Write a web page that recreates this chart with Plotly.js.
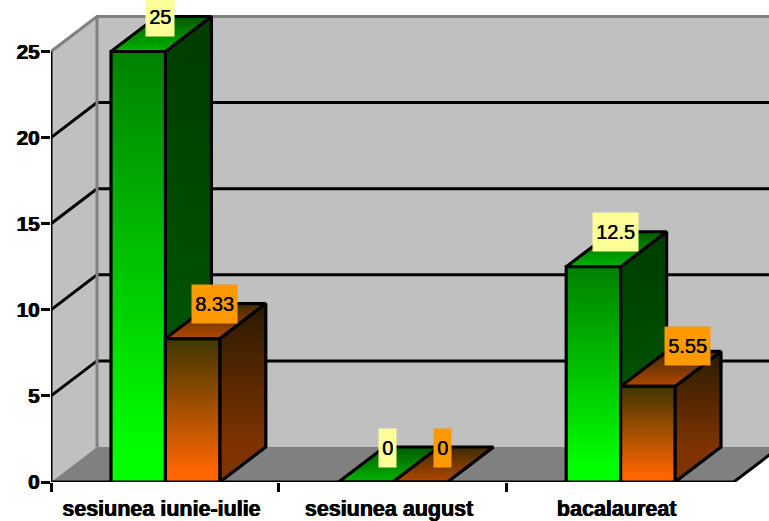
<!DOCTYPE html>
<html><head><meta charset="utf-8">
<script src="https://cdn.plot.ly/plotly-3.0.1.min.js"></script>
<style>html,body{margin:0;padding:0;background:#fff;overflow:hidden}</style>
</head><body><div id="chart" style="width:769px;height:521px"></div>
<script>
const categories = ['sesiunea iunie-iulie', 'sesiunea august', 'bacalaureat'];
const greenValues = [25, 0, 12.5];
const orangeValues = [8.33, 0, 5.55];
const yTicks = [0, 5, 10, 15, 20, 25];
const catTicks = [0, 1, 2];
const catCentres = [0.485, 1.485, 2.485];

const W = 769, H = 521, L = 51, B = 39;
const pxPerCat = 227.6, pxPerVal = 17.22;
const dX = 46 / pxPerCat, dY = 35 / pxPerVal;      // oblique depth
const barW = 54.4 / pxPerCat, gap = 60 / pxPerCat; // bar width, left gap
const FAMILY = '"Liberation Sans", Arial, sans-serif';
const HEAVY = '0.5px 0 0 #000, -0.3px 0 0 #000';

const traces = [];
function poly(pts, fill, line, lw, grad) {
  const t = {
    x: pts.map(p => p[0]), y: pts.map(p => p[1]), mode: 'lines', type: 'scatter',
    cliponaxis: false, showlegend: false, hoverinfo: 'skip',
    line: {color: line || 'rgba(0,0,0,0)', width: lw === undefined ? 3 : lw}
  };
  if (fill || grad) { t.fill = 'toself'; t.fillcolor = fill || 'rgba(0,0,0,0)'; }
  if (grad) t.fillgradient = {type: 'vertical', start: grad[0], stop: grad[1],
                              colorscale: [[0, grad[2]], [1, grad[3]]]};
  traces.push(t);
}
const nCat = categories.length, yMax = yTicks[yTicks.length - 1];

// walls and floor
poly([[dX, dY], [nCat + dX, dY], [nCat + dX, yMax + dY], [dX, yMax + dY], [dX, dY]], '#C0C0C0');
poly([[0, 0], [dX, dY], [dX, yMax + dY], [0, yMax], [0, 0]], '#C0C0C0');
poly([[0, 0], [nCat, 0], [nCat + dX, dY], [dX, dY], [0, 0]], '#808080');
// gridlines
yTicks.slice(1, -1).forEach(v => poly([[0, v], [dX, v + dY], [nCat + dX, v + dY]], null, '#000', 3));
// wall edges
poly([[0, yMax], [dX, yMax + dY], [nCat + dX, yMax + dY]], null, '#808080', 3);
poly([[dX, dY], [dX, yMax + dY]], null, '#808080', 3);
poly([[0, 0], [nCat, 0], [nCat + dX, dY]], null, '#000', 3);
poly([[0, 0], [0, yMax]], null, '#000', 3);

function bar(x0, v, c) {
  const x1 = x0 + barW;
  poly([[x1, 0], [x1 + dX, dY], [x1 + dX, v + dY], [x1, v], [x1, 0]], null, '#000', 3.2,
       [v + dY, dY, c.sideTop, c.sideBot]);
  poly([[x0, v], [x1, v], [x1 + dX, v + dY], [x0 + dX, v + dY], [x0, v]], null, '#000', 3.2,
       [v + dY, v, c.capBack, c.capFront]);
  poly([[x0, 0], [x1, 0], [x1, v], [x0, v], [x0, 0]], null, '#000', 3.2,
       [v, v * 0.07, c.frontTop, c.frontBot]);
}
const greenStyle = {sideTop: '#003C00', sideBot: '#005C00', capBack: '#005A00', capFront: '#00B400',
                    frontTop: '#008000', frontBot: '#00FF00'};
const orangeStyle = {sideTop: '#2A1A00', sideBot: '#7F3300', capBack: '#3F2A00', capFront: '#B34700',
                     frontTop: '#3F3600', frontBot: '#FF6600'};
const annotations = [];
function label(x, v, bg, xs, ys) {
  annotations.push({
    x: x + barW / 2 + dX / 2, y: v + dY / 2, xref: 'x', yref: 'y', text: String(v),
    showarrow: false, xanchor: 'center', yanchor: 'middle', yshift: ys, xshift: xs,
    bgcolor: bg, height: 32, borderpad: 3, align: 'center', valign: 'middle',
    font: {family: FAMILY, size: 20, color: '#000', shadow: '0.4px 0 0 #000'}
  });
}
categories.forEach((c, i) => {
  const x0 = i + gap;
  const last = i === categories.length - 1;
  bar(x0, greenValues[i], greenStyle);
  bar(x0 + barW, orangeValues[i], orangeStyle);
  label(x0, greenValues[i], '#FFFF99', -1, 17);
  label(x0 + barW, orangeValues[i], '#FF9900', last ? 17 : -1, last ? 23 : 17);
});

const layout = {
  width: W, height: H, paper_bgcolor: '#fff', plot_bgcolor: '#fff',
  margin: {l: L, r: 0, t: 0, b: B, pad: 0}, showlegend: false, hovermode: false,
  annotations,
  xaxis: {
    range: [0, (W - L) / pxPerCat], showgrid: false, zeroline: false, showline: false,
    tickmode: 'array', tickvals: catCentres, ticktext: categories, ticks: '', tickangle: 0,
    ticklabelstandoff: 11,
    tickfont: {family: FAMILY, size: 21.5, color: '#000', weight: 700, shadow: HEAVY},
    minor: {tickmode: 'array', tickvals: catTicks, ticks: 'outside', ticklen: 9, tickwidth: 3, tickcolor: '#000', showgrid: false}
  },
  yaxis: {
    range: [0, (H - B) / pxPerVal], showgrid: false, zeroline: false, showline: false,
    tickmode: 'array', tickvals: yTicks, ticks: 'outside', ticklen: 9, tickwidth: 3, tickcolor: '#000',
    ticklabelstandoff: -3,
    tickfont: {family: FAMILY, size: 21, color: '#000', weight: 700, shadow: HEAVY}
  }
};
Plotly.newPlot('chart', traces, layout, {displayModeBar: false, staticPlot: true});
</script></body></html>
